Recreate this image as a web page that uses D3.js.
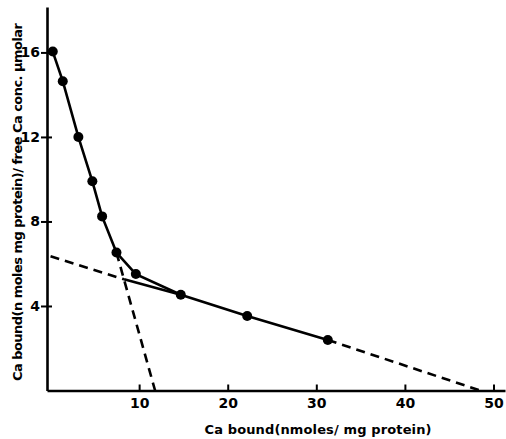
<!DOCTYPE html>
<html>
<head>
<meta charset="utf-8">
<script src="https://cdn.jsdelivr.net/npm/d3@7"></script>
<style>
  body { margin: 0; background: #fff; }
  text { font-family: "DejaVu Sans", sans-serif; font-weight: bold; fill: #000; }
</style>
</head>
<body>
<svg id="chart" width="506" height="439"></svg>
<script>
// Data =============================================================
// measured points (Ca bound vs bound/free)
var boundCa  = [0.25, 1.38, 3.14, 4.72, 5.82, 7.44, 9.63, 14.7, 22.2, 31.3];
var boundFree = [16.04, 14.64, 12.0, 9.9, 8.24, 6.53, 5.51, 4.53, 3.53, 2.39];

// extrapolated lines for the two classes of sites
var highSiteLine = [[7.44, 6.53], [11.8, 0]];
var lowSiteDashedA = [[0, 6.35], [8.3, 5.26]];
var lowSiteSolid = [[8.3, 5.26], [14.7, 4.53]];
var lowSiteDashedB = [[31.3, 2.39], [48.5, 0]];

var xTicks = [10, 20, 30, 40, 50];
var yTicks = [4, 8, 12, 16];
var xTitle = "Ca bound(nmoles/ mg protein)";
var yTitle = "Ca bound(n moles  mg protein)/ free Ca conc. \u03BCmolar";

// Scales ===========================================================
var svg = d3.select("#chart");

var x = d3.scaleLinear().domain([-0.4, 51.3]).range([47, 505]);
var y = d3.scaleLinear().domain([0, 18.15]).range([390.5, 7]);

// x axis, ticks pointing up into the plot
var xAxis = svg.append("g")
  .attr("transform", "translate(0,390.5)")
  .call(d3.axisBottom(x).tickValues(xTicks).tickSizeInner(-6).tickSizeOuter(0).tickPadding(8));
xAxis.select(".domain").attr("stroke", "#000").attr("stroke-width", 2.6);
xAxis.selectAll(".tick line").attr("stroke", "#000").attr("stroke-width", 2);
xAxis.selectAll(".tick text").attr("font-size", 14).attr("font-family", "DejaVu Sans").attr("font-weight", "bold");

// y axis, ticks crossing the line
var yAxis = svg.append("g")
  .attr("transform", "translate(47,0)")
  .call(d3.axisLeft(y).tickValues(yTicks).tickSizeInner(6).tickSizeOuter(0).tickPadding(1));
yAxis.select(".domain").attr("stroke", "#000").attr("stroke-width", 2.6);
yAxis.selectAll(".tick line").attr("x2", -6).attr("x1", 5).attr("stroke", "#000").attr("stroke-width", 2);
yAxis.selectAll(".tick text").attr("font-size", 14).attr("font-family", "DejaVu Sans").attr("font-weight", "bold");

// Lines ============================================================
var line = d3.line().x(function(d) { return x(d[0]); }).y(function(d) { return y(d[1]); });

function drawLine(pts, dashed) {
  svg.append("path")
    .attr("d", line(pts))
    .attr("fill", "none")
    .attr("stroke", "#000")
    .attr("stroke-width", 2.6)
    .attr("stroke-dasharray", dashed ? "9,6" : null);
}

drawLine(highSiteLine, true);
drawLine(lowSiteDashedA, true);
drawLine(lowSiteDashedB, true);
drawLine(lowSiteSolid, false);

var pts = boundCa.map(function(v, i) { return [v, boundFree[i]]; });
drawLine(pts, false);

// Markers
svg.selectAll("circle.pt")
  .data(pts)
  .enter()
  .append("circle")
  .attr("class", "pt")
  .attr("cx", function(d) { return x(d[0]); })
  .attr("cy", function(d) { return y(d[1]); })
  .attr("r", 5)
  .attr("fill", "#000");

// Titles ===========================================================
svg.append("text")
  .attr("x", 318)
  .attr("y", 434)
  .attr("text-anchor", "middle")
  .attr("font-size", 13)
  .attr("textLength", 227)
  .text(xTitle);

svg.append("text")
  .attr("transform", "translate(22,202) rotate(-90)")
  .attr("text-anchor", "middle")
  .attr("font-size", 13)
  .attr("textLength", 358)
  .text(yTitle);
</script>
</body>
</html>
